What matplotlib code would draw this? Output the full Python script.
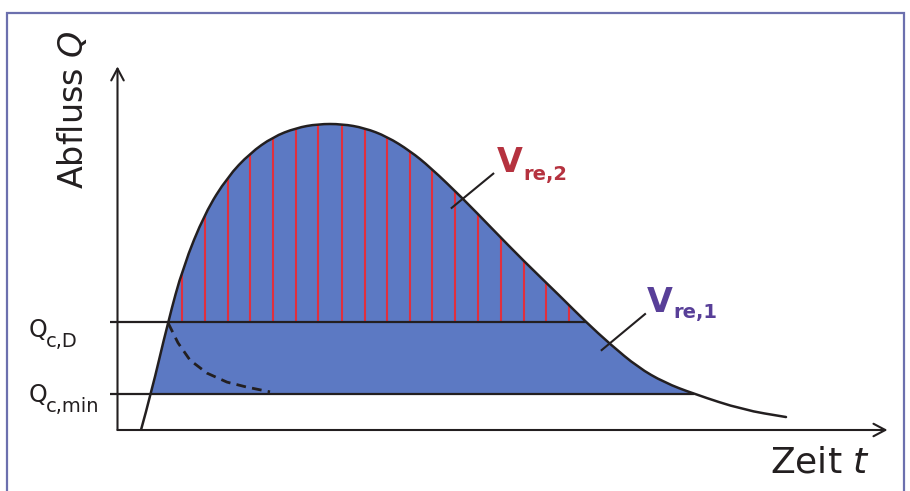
import matplotlib
matplotlib.use("Agg")
import matplotlib.pyplot as plt
from matplotlib.path import Path
from matplotlib.patches import PathPatch, Rectangle
from matplotlib.transforms import offset_copy

plt.rcParams['mathtext.fontset'] = 'dejavusans'
plt.rcParams['font.family'] = ['DejaVu Sans']
plt.rcParams['lines.scale_dashes'] = False

# ---------------- data (time t, discharge Q; schematic units) ----------------
t_curve = [0.305, 0.435, 0.656, 0.851, 1.136, 1.429, 1.721, 2.019, 2.318, 2.604,
           2.916, 3.208, 3.500, 3.800, 4.060, 4.490, 4.880, 5.273, 5.747, 6.084,
           6.400, 6.760, 7.100, 7.490, 8.123, 8.682]
Q_curve = [0.00, 1.00, 3.00, 4.53, 6.03, 7.03, 7.69, 8.14, 8.39, 8.50,
           8.50, 8.39, 8.15, 7.75, 7.30, 6.42, 5.56, 4.70, 3.72, 3.00,
           2.38, 1.74, 1.32, 1.00, 0.56, 0.36]

Q_cD = 3.0          # Q_c,D
Q_cmin = 1.0        # Q_c,min
t_cD_end = 6.084    # end of Q_c,D line (on the curve)
t_cmin_end = 7.49   # end of Q_c,min line (on the curve)

t_red = [0.834, 1.135, 1.429, 1.722, 2.017, 2.318, 2.604, 2.913, 3.208,
         3.501, 3.796, 4.090, 4.383, 4.678, 4.979, 5.273, 5.566, 5.860]

t_dash = [0.660, 0.786, 0.942, 1.162, 1.422, 1.682, 1.981]
Q_dash = [2.96, 2.42, 1.94, 1.58, 1.33, 1.19, 1.06]

lead2_t = [4.34, 4.88]
lead2_Q = [6.17, 7.12]
lead1_t = [6.288, 6.851]
lead1_Q = [2.22, 3.22]

# ---------------- styling ----------------
FILL = '#5c79c3'
RED = '#e0303e'
DARK = '#231f20'
V2_COL = '#b5323f'
V1_COL = '#583f98'
BORDER = '#6c70ae'

W, H = 910, 491
fig = plt.figure(figsize=(W / 100, H / 100), dpi=100)
ax = fig.add_axes([117.5 / W, (H - 430) / H, 770 / W, 36 * 10.1 / H])
ax.set_xlim(0, 10)
ax.set_ylim(0, 10.1)
ax.axis('off')

# border frame
fig.patches.append(Rectangle((7 / W, -0.05), (904 - 7) / W, (H - 13) / H + 0.05,
                             transform=fig.transFigure, fill=False,
                             edgecolor=BORDER, lw=1.6))


def smooth_path(xs, ys, close_to_base=False):
    pts = list(zip(xs, ys))
    verts = [pts[0]]
    codes = [Path.MOVETO]
    for i in range(1, len(pts) - 1):
        mid = ((pts[i][0] + pts[i + 1][0]) / 2, (pts[i][1] + pts[i + 1][1]) / 2)
        verts += [pts[i], mid]
        codes += [Path.CURVE3, Path.CURVE3]
    verts.append(pts[-1])
    codes.append(Path.LINETO)
    if close_to_base:
        verts += [(pts[-1][0], 0), (pts[0][0], 0), pts[0]]
        codes += [Path.LINETO, Path.LINETO, Path.CLOSEPOLY]
    return Path(verts, codes)


# filled area above Q_c,min under the hydrograph
area = PathPatch(smooth_path(t_curve, Q_curve, True), facecolor=FILL,
                 edgecolor='none', zorder=1)
ax.add_patch(area)
clip_rect = Rectangle((-1, Q_cmin), 12, 10, transform=ax.transData)
area.set_clip_path(clip_rect)

# red hatch lines above Q_c,D
red = ax.vlines(t_red, Q_cD, 9.0, colors=RED, lw=1.5, zorder=2)
red.set_clip_path(area.get_path(), ax.transData)

# hydrograph outline
ax.add_patch(PathPatch(smooth_path(t_curve, Q_curve), facecolor='none',
                       edgecolor=DARK, lw=1.8, zorder=4, capstyle='round'))

# threshold lines
ax.plot([-0.097, t_cD_end], [Q_cD, Q_cD], color=DARK, lw=1.6, zorder=3,
        clip_on=False, solid_capstyle='butt')
ax.plot([-0.097, t_cmin_end], [Q_cmin, Q_cmin], color=DARK, lw=1.6, zorder=3,
        clip_on=False, solid_capstyle='butt')

# dashed curve
ax.plot(t_dash, Q_dash, color=DARK, lw=2.0, linestyle=(0, (7, 4.5)), zorder=3)

# axes arrows
arrow = dict(arrowstyle='->,head_length=0.85,head_width=0.45', lw=1.5,
             color=DARK, shrinkA=0, shrinkB=0)
ax.annotate('', xy=(10, 0), xytext=(0, 0), arrowprops=arrow, annotation_clip=False)
ax.annotate('', xy=(0, 10.1), xytext=(0, 0), arrowprops=arrow, annotation_clip=False)

# leader lines
ax.plot(lead2_t, lead2_Q, color=DARK, lw=1.5, zorder=5)
ax.plot(lead1_t, lead1_Q, color=DARK, lw=1.5, zorder=5)


def sub_label(x, y, main, sub, color, fs_main, fs_sub, dx, dy, weight):
    ax.text(x, y, main, color=color, fontsize=fs_main, fontweight=weight,
            ha='left', va='baseline', clip_on=False)
    tr = offset_copy(ax.transData, fig=fig, x=dx, y=dy, units='dots')
    ax.text(x, y, sub, transform=tr, color=color, fontsize=fs_sub,
            fontweight=weight, ha='left', va='baseline', clip_on=False)


sub_label(4.93, 7.17, 'V', 're,2', V2_COL, 24, 14, 26, -8, 'bold')
sub_label(6.877, 3.28, 'V', 're,1', V1_COL, 24, 14, 26, -6, 'bold')
sub_label(-1.15, 2.58, 'Q', 'c,D', DARK, 17, 14, 17, -10, 'normal')
sub_label(-1.15, 0.78, 'Q', 'c,min', DARK, 17, 14, 17, -10, 'normal')

ax.text(8.47, -1.17, r'Zeit $\mathit{t}$', color=DARK, fontsize=26,
        ha='left', va='baseline', clip_on=False)
fig.text(73 / W, 1 - 110 / H, r'Abfluss $\mathit{Q}$', color=DARK, fontsize=24,
         rotation=90, ha='center', va='center')

fig.savefig('out.png', dpi=100, facecolor='white')
